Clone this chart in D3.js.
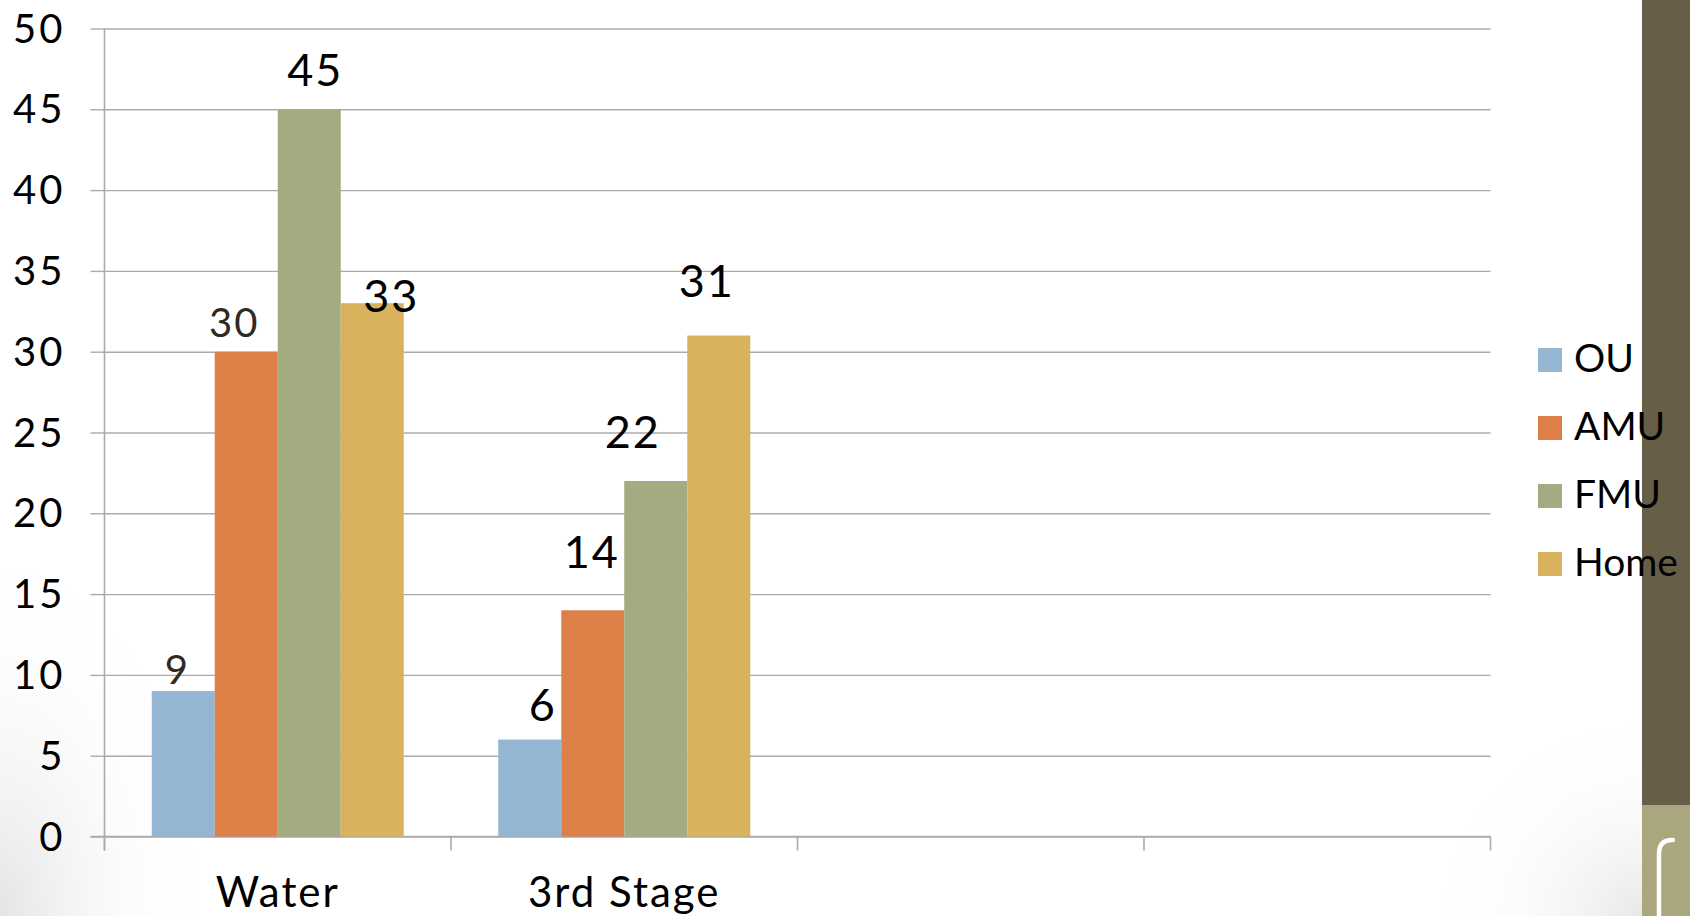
<!DOCTYPE html>
<html>
<head>
<meta charset="utf-8">
<script src="https://cdn.jsdelivr.net/npm/d3@7"></script>
<style>
  html, body { margin: 0; padding: 0; background: #fff; }
  svg { display: block; }
  text { font-family: Lato, "Noto Sans", sans-serif; }
</style>
</head>
<body>
<svg id="chart" width="1690" height="916"></svg>
<script>
// ---- data ----
const categories = ["Water", "3rd Stage", "", ""];
const seriesNames = ["OU", "AMU", "FMU", "Home"];
const seriesColors = ["#94B6D2", "#DD8047", "#A5AB81", "#D8B25C"];
const ouValues   = [9, 6, null, null];
const amuValues  = [30, 14, null, null];
const fmuValues  = [45, 22, null, null];
const homeValues = [33, 31, null, null];
const yTicks = [0, 5, 10, 15, 20, 25, 30, 35, 40, 45, 50];

// hand-placed label nudges [dx, dy] per series, per category
const labelNudges = [
  [[-6, -7], [13, -19]],
  [[-12, -15], [-1, -42]],
  [[6, -23], [-23, -33]],
  [[19, 9], [-12, -39]]
];
const labelSmall = [[true, false], [true, false], [false, false], [false, false]];

const seriesValues = [ouValues, amuValues, fmuValues, homeValues];

// ---- layout ----
const svg = d3.select("#chart");
const plotLeft = 104.5, plotRight = 1490.5, plotTop = 28.5, plotBottom = 836.5;

const defs = svg.append("defs");
const g1 = defs.append("radialGradient").attr("id", "shadeL")
  .attr("cx", 0).attr("cy", 1).attr("r", 1);
g1.append("stop").attr("offset", "0%").attr("stop-color", "#e4e4e4").attr("stop-opacity", 1);
g1.append("stop").attr("offset", "100%").attr("stop-color", "#ffffff").attr("stop-opacity", 0);
const g2 = defs.append("radialGradient").attr("id", "shadeR")
  .attr("cx", 1).attr("cy", 1).attr("r", 1);
g2.append("stop").attr("offset", "0%").attr("stop-color", "#e8e8e8").attr("stop-opacity", 1);
g2.append("stop").attr("offset", "100%").attr("stop-color", "#ffffff").attr("stop-opacity", 0);

svg.append("rect").attr("x", 0).attr("y", 0).attr("width", 1690).attr("height", 916).attr("fill", "#fff");
svg.append("rect").attr("x", 0).attr("y", 560).attr("width", 200).attr("height", 356).attr("fill", "url(#shadeL)");
svg.append("rect").attr("x", 1440).attr("y", 720).attr("width", 202).attr("height", 196).attr("fill", "url(#shadeR)");

// side band decoration
svg.append("rect").attr("x", 1642).attr("y", 0).attr("width", 48).attr("height", 805).attr("fill", "#665E47");
svg.append("rect").attr("x", 1642).attr("y", 805).attr("width", 48).attr("height", 111).attr("fill", "#AAA67D");
svg.append("path")
  .attr("d", "M1673,840 L1672,840 Q1659,840 1659,854 L1659,920")
  .attr("fill", "none").attr("stroke", "#fff").attr("stroke-width", 4.5).attr("stroke-linecap", "round");

const y = d3.scaleLinear().domain([0, 50]).range([plotBottom, plotTop]);
const x = d3.scaleBand().domain(d3.range(categories.length)).range([plotLeft, plotRight]).padding(0);
const xs = d3.scaleBand().domain(d3.range(seriesNames.length)).range([0, x.bandwidth()])
  .paddingInner(0).paddingOuter(0.75);

// gridlines
svg.append("g")
  .attr("transform", `translate(${plotLeft},0)`)
  .call(d3.axisLeft(y).tickValues(yTicks).tickSize(-(plotRight - plotLeft)).tickFormat(""))
  .call(g => g.select(".domain").remove())
  .call(g => g.selectAll("line").attr("stroke", "#ababab").attr("stroke-width", 1.4));

// y axis with tick labels
svg.append("g")
  .attr("transform", `translate(${plotLeft},0)`)
  .call(d3.axisLeft(y).tickValues(yTicks).tickSize(14).tickPadding(25))
  .call(g => g.select(".domain").remove())
  .call(g => g.selectAll("line").attr("stroke", "#ababab").attr("stroke-width", 1.4))
  .call(g => g.selectAll("text").attr("font-size", 40).attr("fill", "#000")
    .attr("font-family", "Lato, sans-serif").attr("letter-spacing", 3).attr("dy", "0.34em"));

// y axis line
svg.append("line").attr("x1", plotLeft).attr("x2", plotLeft).attr("y1", plotTop).attr("y2", plotBottom + 14)
  .attr("stroke", "#ababab").attr("stroke-width", 1.6);

// x axis line and boundary ticks
svg.append("line").attr("x1", plotLeft - 14).attr("x2", plotRight).attr("y1", plotBottom).attr("y2", plotBottom)
  .attr("stroke", "#ababab").attr("stroke-width", 1.6);
const boundaries = categories.map((c, i) => x(i)).concat([plotRight]);
svg.append("g").selectAll("line").data(boundaries).join("line")
  .attr("x1", d => d).attr("x2", d => d).attr("y1", plotBottom).attr("y2", plotBottom + 14)
  .attr("stroke", "#ababab").attr("stroke-width", 1.6);

// category labels
svg.append("g")
  .attr("transform", `translate(0,${plotBottom})`)
  .call(d3.axisBottom(x).tickSize(0).tickPadding(70).tickFormat(i => categories[i]))
  .call(g => g.select(".domain").remove())
  .call(g => g.selectAll("text").attr("font-size", 42).attr("fill", "#000")
    .attr("font-family", "Lato, sans-serif").attr("letter-spacing", 2).attr("dy", 0));

// bars
const barsG = svg.append("g");
seriesValues.forEach((vals, s) => {
  barsG.append("g").selectAll("rect")
    .data(vals.map((v, i) => ({ v, i })).filter(d => d.v != null))
    .join("rect")
    .attr("x", d => x(d.i) + xs(s))
    .attr("width", xs.bandwidth())
    .attr("y", d => y(d.v))
    .attr("height", d => y(0) - y(d.v))
    .attr("fill", seriesColors[s]);
});

// value labels
const labelsG = svg.append("g");
seriesValues.forEach((vals, s) => {
  labelsG.append("g").selectAll("text")
    .data(vals.map((v, i) => ({ v, i })).filter(d => d.v != null))
    .join("text")
    .attr("x", d => x(d.i) + xs(s) + xs.bandwidth() / 2 + labelNudges[s][d.i][0])
    .attr("y", d => y(d.v) + labelNudges[s][d.i][1])
    .attr("text-anchor", "middle")
    .attr("font-size", d => labelSmall[s][d.i] ? 40 : 45)
    .attr("letter-spacing", 2)
    .attr("fill", d => labelSmall[s][d.i] ? "#2f2a22" : "#000")
    .text(d => d.v);
});

// legend
const legend = svg.append("g");
seriesNames.forEach((name, s) => {
  const ly = 348 + s * 68;
  legend.append("rect").attr("x", 1538).attr("y", ly).attr("width", 24).attr("height", 24)
    .attr("fill", seriesColors[s]);
  legend.append("text").attr("x", 1574).attr("y", ly + 24)
    .attr("font-size", 39).attr("fill", "#000").text(name);
});
</script>
</body>
</html>
